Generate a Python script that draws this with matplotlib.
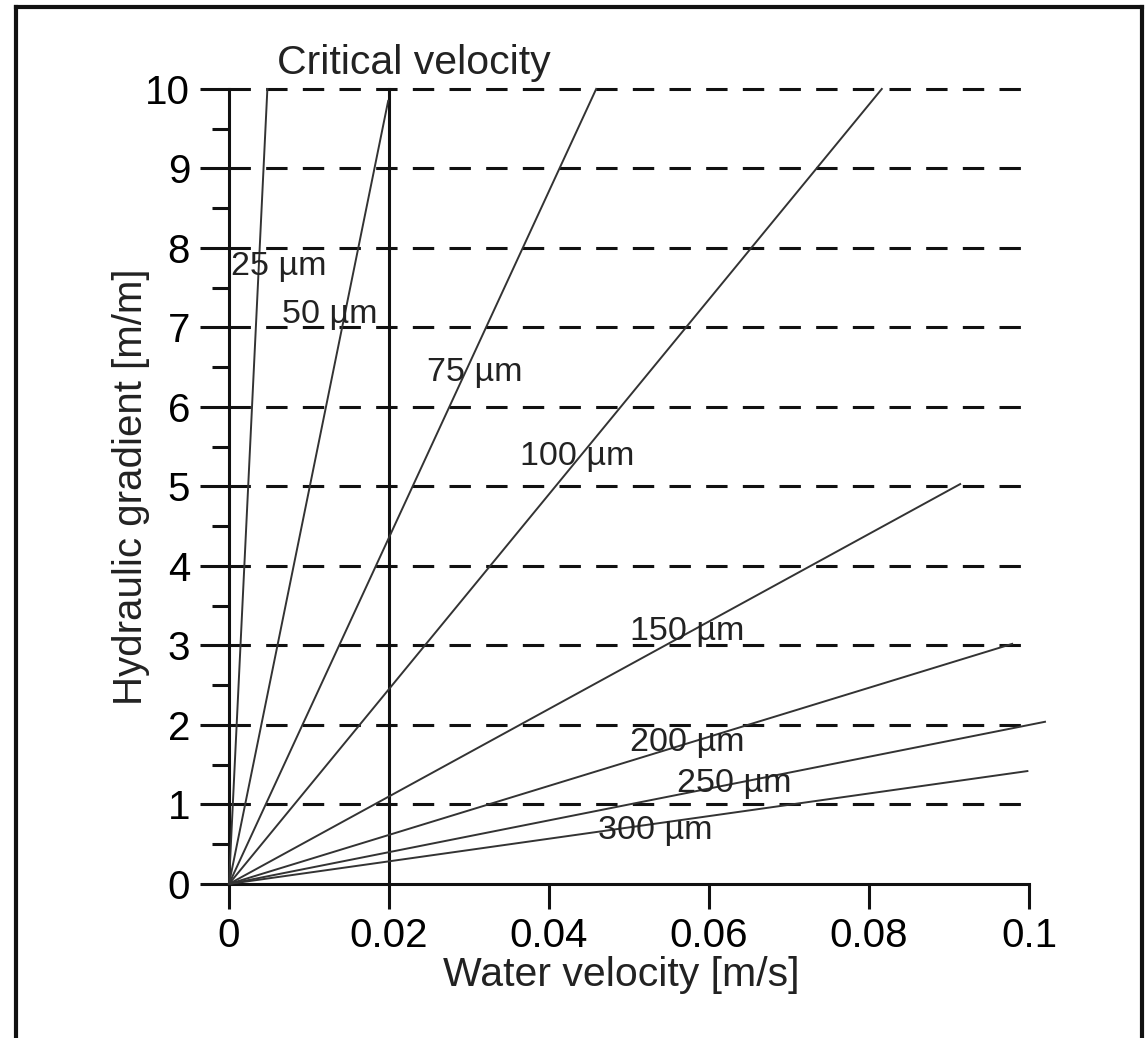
import numpy as np
import matplotlib.pyplot as plt
from matplotlib.lines import Line2D
from matplotlib.ticker import MultipleLocator

plt.rcParams['font.family'] = ['Liberation Sans', 'DejaVu Sans']

# ---- data ----
sizes = ["25 µm", "50 µm", "75 µm", "100 µm", "150 µm", "200 µm", "250 µm", "300 µm"]
end_v = [0.0048, 0.0199, 0.0459, 0.0816, 0.0914, 0.0979, 0.1020, 0.0998]   # water velocity at line end [m/s]
end_i = [10.0, 9.85, 10.0, 10.0, 5.03, 3.02, 2.04, 1.42]                    # hydraulic gradient at line end
label_v = [0.0002, 0.0066, 0.0248, 0.0364, 0.0501, 0.0501, 0.0560, 0.0461]
label_i = [7.77, 7.16, 6.43, 5.38, 3.18, 1.78, 1.26, 0.67]
critical_v = 0.02
grid_levels = [1, 2, 3, 4, 5, 6, 7, 8, 9, 10]
x_ticks = [0, 0.02, 0.04, 0.06, 0.08, 0.1]
x_ticklabels = ["0", "0.02", "0.04", "0.06", "0.08", "0.1"]

fig = plt.figure(figsize=(11.46, 10.38), dpi=100)
ax = fig.add_axes([0.1998, 0.1484, 0.8979 - 0.1998, 0.9143 - 0.1484])

# dashed horizontal lines
for g in grid_levels:
    ax.plot([0, 0.1], [g, g], color='#111111', lw=2.2, dashes=(7, 5), zorder=1, clip_on=False)

# critical velocity line
ax.plot([critical_v, critical_v], [0, 10], color='#111111', lw=2.2, zorder=2, clip_on=False)
ax.text(0.006, 10.33, "Critical velocity", fontsize=29.5, ha='left', va='center', color='#222222')

# grain size lines
for name, vx, iy, lx, ly in zip(sizes, end_v, end_i, label_v, label_i):
    ax.plot([0, vx], [0, iy], color='#333333', lw=1.4, zorder=3, clip_on=False)
    ax.text(lx, ly, name, fontsize=24.5, ha='left', va='center', color='#222222', zorder=4)

ax.set_xlim(0, 0.1)
ax.set_ylim(0, 10)
ax.set_xticks(x_ticks)
ax.set_xticklabels(x_ticklabels)
ax.yaxis.set_major_locator(MultipleLocator(1))
ax.yaxis.set_minor_locator(MultipleLocator(0.5))

for s in ['top', 'right']:
    ax.spines[s].set_visible(False)
for s in ['left', 'bottom']:
    ax.spines[s].set_linewidth(2.2)
    ax.spines[s].set_color('#111111')

ax.tick_params(axis='y', which='major', length=21, width=2.2, labelsize=29, pad=7, color='#111111')
ax.tick_params(axis='y', which='minor', length=12, width=2.2, color='#111111')
ax.tick_params(axis='x', which='major', length=18, width=2.2, labelsize=29, pad=6, color='#111111')

ax.set_xlabel("Water velocity [m/s]", fontsize=29.5, color='#222222')
ax.set_ylabel("Hydraulic gradient [m/m]", fontsize=29, color='#222222')
ax.xaxis.set_label_coords(0.49, -0.09)
ax.yaxis.set_label_coords(-0.099, 0.50)

# frame around the figure (top, left, right)
fr = dict(color='#111111', lw=3, transform=fig.transFigure)
fig.add_artist(Line2D([0.014, 0.9965], [0.9933, 0.9933], **fr))
fig.add_artist(Line2D([0.014, 0.014], [0.0, 0.9933], **fr))
fig.add_artist(Line2D([0.9965, 0.9965], [0.0, 0.9933], **fr))

fig.savefig("out.png", dpi=100)
